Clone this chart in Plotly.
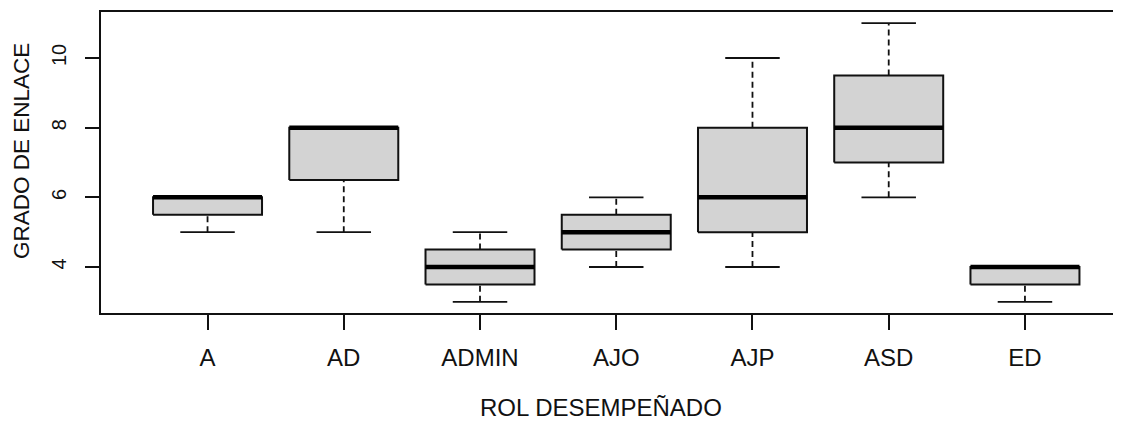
import plotly.graph_objects as go

categories = ["A", "AD", "ADMIN", "AJO", "AJP", "ASD", "ED"]
lower_whisker = [5, 5, 3, 4, 4, 6, 3]
q1 = [5.5, 6.5, 3.5, 4.5, 5, 7, 3.5]
medians = [6, 8, 4, 5, 6, 8, 4]
q3 = [6, 8, 4.5, 5.5, 8, 9.5, 4]
upper_whisker = [6, 8, 5, 6, 10, 11, 4]
y_ticks = [4, 6, 8, 10]

HALF = 0.4
STAPLE = 0.2
FONT = "Liberation Sans, Arial, sans-serif"
INK = "#111111"

fig = go.Figure()

wx, wy, bx, by, mx, my, sx, sy = [], [], [], [], [], [], [], []
for i, cat in enumerate(categories):
    x = i + 1
    wx += [x, x, None, x, x, None]
    wy += [lower_whisker[i], q1[i], None, q3[i], upper_whisker[i], None]
    bx += [x - HALF, x + HALF, x + HALF, x - HALF, x - HALF, None]
    by += [q1[i], q1[i], q3[i], q3[i], q1[i], None]
    mx += [x - HALF, x + HALF, None]
    my += [medians[i], medians[i], None]
    sx += [x - STAPLE, x + STAPLE, None, x - STAPLE, x + STAPLE, None]
    sy += [lower_whisker[i], lower_whisker[i], None, upper_whisker[i], upper_whisker[i], None]

fig.add_trace(go.Scatter(x=wx, y=wy, mode="lines",
                         line=dict(color=INK, width=1.8, dash="6px,4px"),
                         hoverinfo="skip", showlegend=False))
fig.add_trace(go.Scatter(x=sx, y=sy, mode="lines",
                         line=dict(color=INK, width=1.8),
                         hoverinfo="skip", showlegend=False))
fig.add_trace(go.Scatter(x=bx, y=by, mode="lines", fill="toself",
                         fillcolor="#D3D3D3",
                         line=dict(color=INK, width=2),
                         hoverinfo="skip", showlegend=False))
fig.add_trace(go.Scatter(x=mx, y=my, mode="lines",
                         line=dict(color="black", width=4.5),
                         hoverinfo="skip", showlegend=False))

# page body has an 8px margin, so the figure is offset by (8, 8)
fig.update_layout(
    width=1113, height=413,
    margin=dict(l=93, r=0, t=4, b=108, autoexpand=False),
    paper_bgcolor="white", plot_bgcolor="white",
    font=dict(family=FONT, size=24, color=INK),
    showlegend=False,
    annotations=[
        dict(text="ROL DESEMPEÑADO", xref="paper", yref="paper",
             x=0.490, y=0, xanchor="center", yanchor="middle", yshift=-94,
             showarrow=False, font=dict(size=24, family=FONT, color=INK)),
        dict(text="GRADO DE ENLACE", xref="paper", yref="paper",
             x=0, y=0.538, xanchor="center", yanchor="middle", xshift=-80,
             textangle=-90,
             showarrow=False, font=dict(size=22.5, family=FONT, color=INK)),
    ],
)
fig.update_xaxes(
    range=[0.218, 7.705], automargin=False,
    tickmode="array", tickvals=list(range(1, len(categories) + 1)), ticktext=categories,
    ticks="outside", ticklen=15, tickwidth=1.8, tickcolor=INK,
    ticklabelstandoff=7,
    showline=True, mirror=True, linecolor=INK, linewidth=2,
    showgrid=False, zeroline=False,
    tickfont=dict(size=24),
)
fig.update_yaxes(
    range=[2.68, 11.32], automargin=False,
    tickmode="array", tickvals=y_ticks, ticktext=[str(v) for v in y_ticks],
    tickangle=-90,
    ticks="outside", ticklen=14, tickwidth=1.8, tickcolor=INK,
    ticklabelstandoff=11,
    showline=True, mirror=False, linecolor=INK, linewidth=2,
    showgrid=False, zeroline=False,
    tickfont=dict(size=20),
)

fig.write_html("out.html")
